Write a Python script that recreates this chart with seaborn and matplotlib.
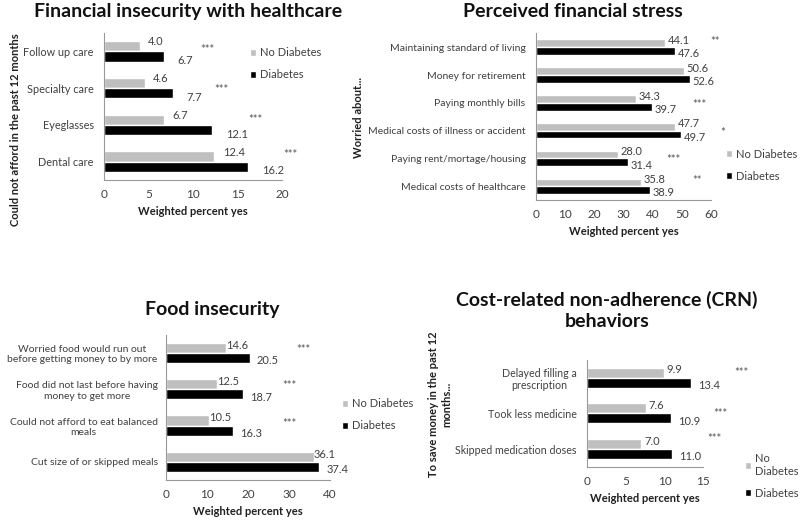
"Financial burden panels: diabetes vs no diabetes"

import numpy as np
import pandas as pd
import matplotlib
matplotlib.use("Agg")
import matplotlib.pyplot as plt
import seaborn as sns

# Data
groups = ["No Diabetes", "Diabetes"]

care_items = ["Follow up care", "Specialty care", "Eyeglasses", "Dental care"]
care_no = [4.0, 4.6, 6.7, 12.4]
care_dm = [6.7, 7.7, 12.1, 16.2]
care_sig = ["***", "***", "***", "***"]

stress_items = ["Maintaining standard of living", "Money for retirement",
                "Paying monthly bills", "Medical costs of illness or accident",
                "Paying rent/mortage/housing", "Medical costs of healthcare"]
stress_no = [44.1, 50.6, 34.3, 47.7, 28.0, 35.8]
stress_dm = [47.6, 52.6, 39.7, 49.7, 31.4, 38.9]
stress_sig = ["**", "", "***", "*", "***", "**"]

food_items = ["Worried food would run out\nbefore getting money to by more",
              "Food did not last before having\nmoney to get more",
              "Could not afford to eat balanced\nmeals",
              "Cut size of or skipped meals"]
food_no = [14.6, 12.5, 10.5, 36.1]
food_dm = [20.5, 18.7, 16.3, 37.4]
food_sig = ["***", "***", "***", ""]

crn_items = ["Delayed filling a\nprescription", "Took less medicine",
             "Skipped medication doses"]
crn_no = [9.9, 7.6, 7.0]
crn_dm = [13.4, 10.9, 11.0]
crn_sig = ["***", "***", "***"]


def long_df(items, no, dm):
    return pd.DataFrame({
        "item": items * 2,
        "group": [groups[0]] * len(items) + [groups[1]] * len(items),
        "value": no + dm,
    })


sns.set_style("white")
plt.rcParams["font.family"] = ["Lato", "DejaVu Sans"]

TXT = "#404040"
palette = {"No Diabetes": "#bfbfbf", "Diabetes": "#000000"}

fig = plt.figure(figsize=(8, 5.2), dpi=100)


def panel(rect, items, no, dm, sig, star_x, star_dy, xmax, xstep,
          ylabel, leg_xy, leg_labels, pads, ylab_xy, tick_fs, tick_pad=7.5):
    ax = fig.add_axes(rect)
    sns.barplot(data=long_df(items, no, dm), x="value", y="item", hue="group",
                hue_order=groups, palette=palette, orient="h", width=0.56,
                gap=0, saturation=1, ax=ax, legend=True)
    ax.set_xlim(0, xmax)
    ax.set_xticks(np.arange(0, xmax + 0.1, xstep))
    ax.set_ylim(len(items) - 0.5, -0.5)
    # excel style ticks between categories
    ax.set_yticks(np.arange(-0.5, len(items), 1.0), minor=True)
    ax.tick_params(axis="y", which="major", length=0, labelsize=tick_fs,
                   labelcolor=TXT, pad=tick_pad)
    ax.tick_params(axis="y", which="minor", length=4, color="#999999",
                   direction="out")
    ax.tick_params(axis="x", length=3, color="#999999", labelsize=8.5,
                   labelcolor=TXT, direction="out")
    for lab in ax.get_yticklabels():
        lab.set_multialignment("center")
    for s in ["top", "right"]:
        ax.spines[s].set_visible(False)
    for s in ["left", "bottom"]:
        ax.spines[s].set_color("#999999")
        ax.spines[s].set_linewidth(0.8)
    ax.set_xlabel("Weighted percent yes", fontsize=8, fontweight="bold",
                  color="#202020", labelpad=4)
    ax.set_ylabel("")

    # value labels
    for ci, cont in enumerate(ax.containers):
        dx, dy = pads[ci]
        for p in cont:
            w = p.get_width()
            yc = p.get_y() + p.get_height() / 2
            ax.annotate(f"{w:.1f}", (w, yc), xytext=(dx, dy),
                        textcoords="offset points", ha="left", va="center",
                        fontsize=8, color=TXT)
    # significance stars
    for i, s in enumerate(sig):
        if s:
            ax.text(star_x[i], i + star_dy[i], s, fontsize=8, color="#555555",
                    ha="center", va="center", clip_on=False)

    handles, _ = ax.get_legend_handles_labels()
    ax.legend(handles, leg_labels, loc="upper left", bbox_to_anchor=leg_xy,
              bbox_transform=fig.transFigure, frameon=False, fontsize=8,
              handlelength=0.6, handleheight=0.6, handletextpad=0.3,
              labelspacing=1.0, labelcolor=TXT, borderpad=0)

    if ylabel:
        fig.text(ylab_xy[0], ylab_xy[1], ylabel, rotation=90,
                 ha="center", va="center", fontsize=8, fontweight="bold",
                 color="#202020", multialignment="center")
    return ax


# Panel 1
panel([0.13, 0.654, 0.2225, 0.2827], care_items, care_no, care_dm, care_sig,
      star_x=[11.6, 13.2, 17.0, 20.9], star_dy=[-0.05, 0.05, -0.15, -0.2],
      xmax=20, xstep=5, ylabel="Could not afford in the past 12 months",
      leg_xy=(0.305, 0.92), leg_labels=groups, pads=[(6, 3), (10, -3)],
      ylab_xy=(0.019, 0.75), tick_fs=7.8)
fig.text(0.235, 0.978, "Financial insecurity with healthcare", ha="center",
         va="center", fontsize=14, fontweight="bold", color="#111111")

# Panel 2
panel([0.67, 0.615, 0.219, 0.321], stress_items, stress_no, stress_dm,
      stress_sig, star_x=[61.4, 0, 55.9, 63.8, 47.0, 55.2],
      star_dy=[-0.2, 0, 0.05, 0.05, 0.05, -0.2],
      xmax=60, xstep=10, ylabel="Worried about...",
      leg_xy=(0.9, 0.725), leg_labels=groups, pads=[(2, 2), (2, -2)],
      ylab_xy=(0.4475, 0.775), tick_fs=7.5)
fig.text(0.716, 0.978, "Perceived financial stress", ha="center",
         va="center", fontsize=14, fontweight="bold", color="#111111")

# Panel 3
panel([0.2075, 0.0769, 0.205, 0.279], food_items, food_no, food_dm, food_sig,
      star_x=[33.4, 30.2, 30.2, 0], star_dy=[-0.1, -0.1, -0.05, 0],
      xmax=40, xstep=10, ylabel="",
      leg_xy=(0.42, 0.245), leg_labels=groups, pads=[(0, 2), (5, -2)],
      ylab_xy=(0, 0), tick_fs=7.5, tick_pad=6)
fig.text(0.265, 0.404, "Food insecurity", ha="center", va="center",
         fontsize=14, fontweight="bold", color="#111111")

# Panel 4
panel([0.734, 0.102, 0.145, 0.206], crn_items, crn_no, crn_dm, crn_sig,
      star_x=[19.9, 17.2, 16.4], star_dy=[-0.15, 0.0, -0.3],
      xmax=15, xstep=5, ylabel="To save money in the past 12\nmonths...",
      leg_xy=(0.924, 0.14), leg_labels=["No\nDiabetes", "Diabetes"],
      pads=[(2, 2), (5, -2)], ylab_xy=(0.55, 0.223), tick_fs=7.7)
fig.text(0.759, 0.403, "Cost-related non-adherence (CRN)\nbehaviors",
         ha="center", va="center", fontsize=14, fontweight="bold",
         color="#111111", linespacing=1.3)

fig.savefig("out.png", dpi=100, facecolor="white")
